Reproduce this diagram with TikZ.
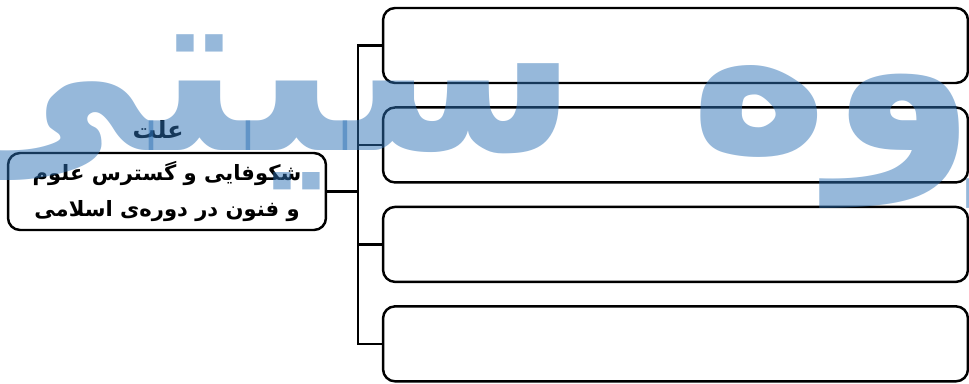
\documentclass[tikz,border=0pt]{standalone}
\usepackage{fontspec}
\newfontfamily\arabicfont[Script=Arabic]{DejaVu Sans}
\TeXXeTstate=1
\usetikzlibrary{positioning}
\definecolor{markblue}{RGB}{45,113,181}

\begin{document}
\begin{tikzpicture}[x=0.02cm,y=-0.02cm,line width=1.4pt,node distance=0.44cm,
  box/.style={draw,rounded corners=0.24cm,align=center},
  slot/.style={box,minimum width=11.7cm,minimum height=1.5cm},
  stamp/.style={inner sep=0pt,text=markblue,text opacity=0.5,
    font=\arabicfont\bfseries\fontsize{135}{135}\selectfont}]
  \useasboundingbox (0,0) rectangle (969,383);
  \node[box,minimum width=6.36cm,minimum height=1.54cm,
    font=\arabicfont\bfseries\fontsize{12}{21}\selectfont] (cause) at (167,191.5)
    {\beginR شکوفایی و گسترس علوم\endR\\ \beginR و فنون در دوره‌ی اسلامی\endR};
  \node[font=\arabicfont\bfseries\fontsize{13.5}{16}\selectfont] (title)
    [above=0.12cm of cause,xshift=-0.18cm] {\beginR علت\endR};
  \node[slot] (one) at (675.5,45.5) {};
  \node[slot] (two) [below=of one] {};
  \node[slot] (three) [below=of two] {};
  \node[slot] (four) [below=of three] {};
  \coordinate (fork) at (358,191.5);
  \draw (cause) -- (fork);
  \draw (fork) |- (one);
  \draw (fork) |- (two);
  \draw (fork) |- (three);
  \draw (fork) |- (four);
  % watermark
  \node[stamp,anchor=base east] (stampleft) at (580,150) {\beginR سیتی\endR};
  \node[stamp,anchor=base west] (stampright) at (688,150) {\beginR گروه\endR};
\end{tikzpicture}
\end{document}
